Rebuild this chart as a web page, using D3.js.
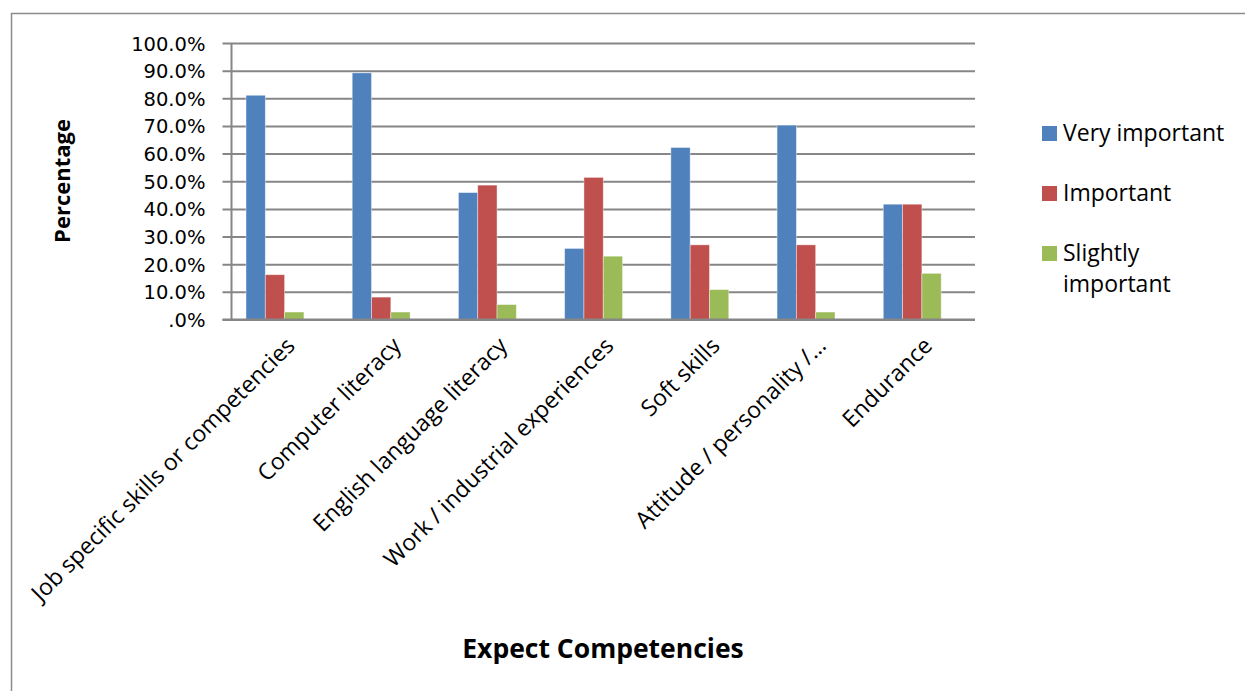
<!DOCTYPE html>
<html>
<head>
<meta charset="utf-8">
<script src="https://cdn.jsdelivr.net/npm/d3@7"></script>
<style>
  html, body { margin: 0; padding: 0; background: #fff; }
  svg { display: block; }
  text { font-family: "Open Sans", "Noto Sans", sans-serif; fill: #000; }
</style>
</head>
<body>
<svg id="chart" width="1245" height="691"></svg>
<script>
const categories = [
  "Job specific skills or competencies",
  "Computer literacy",
  "English language literacy",
  "Work / industrial experiences",
  "Soft skills",
  "Attitude / personality /…",
  "Endurance"
];
const seriesNames = ["Very important", "Important", "Slightly important"];
const veryImportant = [0.811, 0.892, 0.459, 0.257, 0.622, 0.703, 0.417];
const important = [0.162, 0.081, 0.486, 0.514, 0.270, 0.270, 0.417];
const slightlyImportant = [0.027, 0.027, 0.054, 0.229, 0.108, 0.027, 0.167];
const yTicks = [0, 0.1, 0.2, 0.3, 0.4, 0.5, 0.6, 0.7, 0.8, 0.9, 1.0];
const colors = ["#4F81BD", "#C0504D", "#9BBB59"];

const seriesValues = [veryImportant, important, slightlyImportant];
const svg = d3.select("#chart");

// outer frame
svg.append("rect")
  .attr("x", 11.5).attr("y", 13.5)
  .attr("width", 1260).attr("height", 700)
  .attr("fill", "none").attr("stroke", "#8c8c8c").attr("stroke-width", 1.5);

const plot = { left: 231.5, right: 975, top: 43, bottom: 319.5 };

const y = d3.scaleLinear().domain([0, 1]).range([plot.bottom, plot.top]);
const x0 = d3.scaleBand().domain(categories)
  .range([plot.left, plot.right])
  .paddingInner(0.273).paddingOuter(0.1365);
const x1 = d3.scaleBand().domain(seriesNames)
  .range([0, x0.bandwidth() * 0.75]);

// gridlines + ticks
const yAxis = d3.axisLeft(y).tickValues(yTicks)
  .tickSize(-(plot.right - plot.left))
  .tickFormat(d => d === 0 ? ".0%" : d3.format(".1%")(d));
const gy = svg.append("g").attr("transform", `translate(${plot.left},0)`).call(yAxis);
gy.select(".domain").remove();
gy.selectAll(".tick line")
  .attr("x1", -9)
  .attr("stroke", "#868686").attr("stroke-width", 2);
gy.selectAll(".tick text")
  .attr("x", -26)
  .attr("dy", "0.36em")
  .style("font-family", "'DejaVu Sans', sans-serif")
  .style("font-size", "19.5px");

// vertical axis line
svg.append("line")
  .attr("x1", plot.left).attr("x2", plot.left)
  .attr("y1", plot.top).attr("y2", plot.bottom)
  .attr("stroke", "#868686").attr("stroke-width", 2);

// bars
const groups = svg.append("g").selectAll("g")
  .data(categories).join("g")
  .attr("transform", d => `translate(${x0(d)},0)`);
groups.selectAll("rect")
  .data((d, i) => seriesNames.map((s, j) => ({ s, j, v: seriesValues[j][i] })))
  .join("rect")
  .attr("x", d => x1(d.s))
  .attr("width", x1.bandwidth())
  .attr("y", d => y(d.v))
  .attr("height", d => y(0) - y(d.v))
  .attr("fill", d => colors[d.j])
  .attr("stroke", "rgba(255,255,255,0.5)")
  .attr("stroke-width", 0.8);

// baseline redraw
svg.append("line")
  .attr("x1", plot.left - 9).attr("x2", plot.right)
  .attr("y1", y(0)).attr("y2", y(0))
  .attr("stroke", "#868686").attr("stroke-width", 2);

// category labels
const xAxis = d3.axisBottom(x0).tickSize(0).tickPadding(0);
const gx = svg.append("g").attr("transform", `translate(0,${plot.bottom})`).call(xAxis);
gx.select(".domain").remove();
gx.selectAll(".tick text")
  .attr("text-anchor", "end")
  .attr("transform", "translate(6,22) rotate(-45)")
  .attr("dy", "0.35em")
  .attr("y", 0)
  .style("font-size", "23px");

// axis titles
svg.append("text")
  .attr("transform", "translate(70,181) rotate(-90)")
  .attr("text-anchor", "middle")
  .style("font-size", "22px").style("font-weight", "bold")
  .text("Percentage");
svg.append("text")
  .attr("x", 603).attr("y", 658)
  .attr("text-anchor", "middle")
  .style("font-size", "26.5px").style("font-weight", "bold")
  .text("Expect Competencies");

// legend
const legendRows = [
  { name: "Very important", lines: ["Very important"], y: 133 },
  { name: "Important", lines: ["Important"], y: 193 },
  { name: "Slightly important", lines: ["Slightly", "important"], y: 253 }
];
const lg = svg.append("g").selectAll("g").data(legendRows).join("g");
lg.append("rect")
  .attr("x", 1042).attr("y", d => d.y - 7)
  .attr("width", 15).attr("height", 15)
  .attr("fill", (d, i) => colors[i]);
lg.each(function(d) {
  const t = d3.select(this).append("text")
    .attr("x", 1063).attr("y", d.y)
    .style("font-size", "23px");
  d.lines.forEach((ln, k) => {
    t.append("tspan").attr("x", 1063).attr("dy", k === 0 ? "0.35em" : "1.35em").text(ln);
  });
});
</script>
</body>
</html>
